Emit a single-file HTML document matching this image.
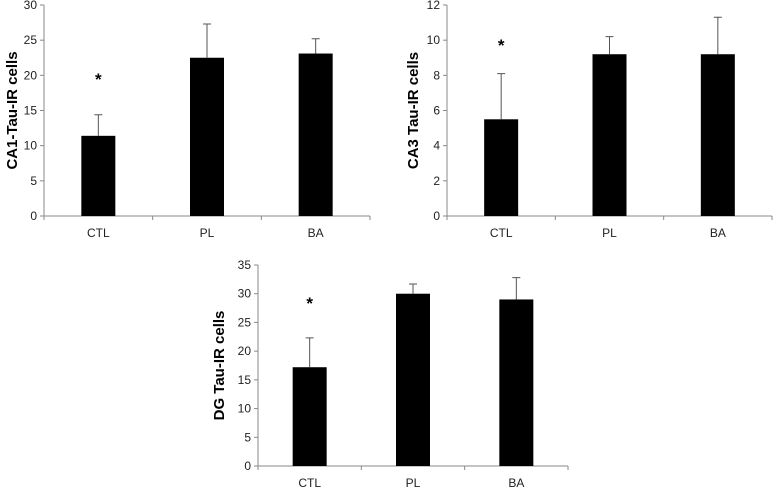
<!DOCTYPE html>
<html><head><meta charset="utf-8"><style>
body{margin:0;background:#fff;width:773px;height:488px;overflow:hidden}
svg{display:block;font-family:"Liberation Sans",sans-serif}
</style></head><body>
<svg id="svg" width="773" height="488"></svg>
<script>
const categories=["CTL","PL","BA"];
const ca1Values=[11.4,22.5,23.1];
const ca1Errors=[14.4,27.3,25.2];
const ca1Ticks=[0,5,10,15,20,25,30];
const ca3Values=[5.5,9.2,9.2];
const ca3Errors=[8.1,10.2,11.3];
const ca3Ticks=[0,2,4,6,8,10,12];
const dgValues=[17.2,30,29];
const dgErrors=[22.3,31.7,32.8];
const dgTicks=[0,5,10,15,20,25,30,35];
const ca1Star=[19.9];
const ca3Star=[9.9];
const dgStar=[28.9];

const NS="http://www.w3.org/2000/svg";
const svg=document.getElementById('svg');
function mk(tag,attrs,parent){const e=document.createElementNS(NS,tag);for(const k in attrs)e.setAttribute(k,attrs[k]);(parent||svg).appendChild(e);return e;}

function chart(name,title,vals,errs,ticks,star,x0,x1,y0,y1,titleX){
  const g=mk('g',{});
  
  
  const max=ticks[ticks.length-1];
  const y=v=>y0-(v/max)*(y0-y1);
  const cw=(x1-x0)/categories.length;
  const xc=i=>x0+cw*(i+0.5);
  const ax=mk('line',{x1:x0,y1:y1,x2:x0,y2:y0,stroke:'#888','stroke-width':1},g);
  
  
  const bx=mk('line',{x1:x0,y1:y0,x2:x1,y2:y0,stroke:'#888','stroke-width':1},g);
  
  
  ticks.forEach(t=>{
    mk('line',{x1:x0-4,y1:y(t),x2:x0,y2:y(t),stroke:'#888'},g);
    const tx=mk('text',{x:x0-7,y:y(t)+4,'text-anchor':'end','font-size':12,fill:'#222'},g);
    tx.textContent=t;
    
    
  });
  for(let i=0;i<=categories.length;i++)mk('line',{x1:x0+cw*i,y1:y0,x2:x0+cw*i,y2:y0+4,stroke:'#888'},g);
  categories.forEach((c,i)=>{
    const bw=34;
    const r=mk('rect',{x:xc(i)-bw/2,y:y(vals[i]),width:bw,height:y0-y(vals[i]),fill:'#000'},g);
    
    
    const e=mk('path',{d:`M${xc(i)},${y(vals[i])}V${y(errs[i])}M${xc(i)-4},${y(errs[i])}H${xc(i)+4}`,stroke:'#555','stroke-width':1,fill:'none'},g);
    
    
    const tx=mk('text',{x:xc(i),y:y0+21,'text-anchor':'middle','font-size':12,fill:'#222'},g);
    tx.textContent=c;
    
    
  });
  const s=mk('text',{x:xc(0),y:y(star[0])+9,'text-anchor':'middle','font-size':17,'font-weight':'bold',fill:'#000'},g);
  s.textContent='*';
  
  
  const cy=(y0+y1)/2;
  const t=mk('text',{x:titleX,y:cy,'text-anchor':'middle','font-size':15,'font-weight':'bold',fill:'#000',transform:`rotate(-90 ${titleX} ${cy})`},g);
  t.textContent=title;
  
  
}
chart('ca1-chart','CA1-Tau-IR cells',ca1Values,ca1Errors,ca1Ticks,ca1Star,44,370,216,5,17);
chart('ca3-chart','CA3 Tau-IR cells',ca3Values,ca3Errors,ca3Ticks,ca3Star,447,772,216,5,418);
chart('dg-chart','DG Tau-IR cells',dgValues,dgErrors,dgTicks,dgStar,258,568,466,265,224);
</script>
</body></html>
